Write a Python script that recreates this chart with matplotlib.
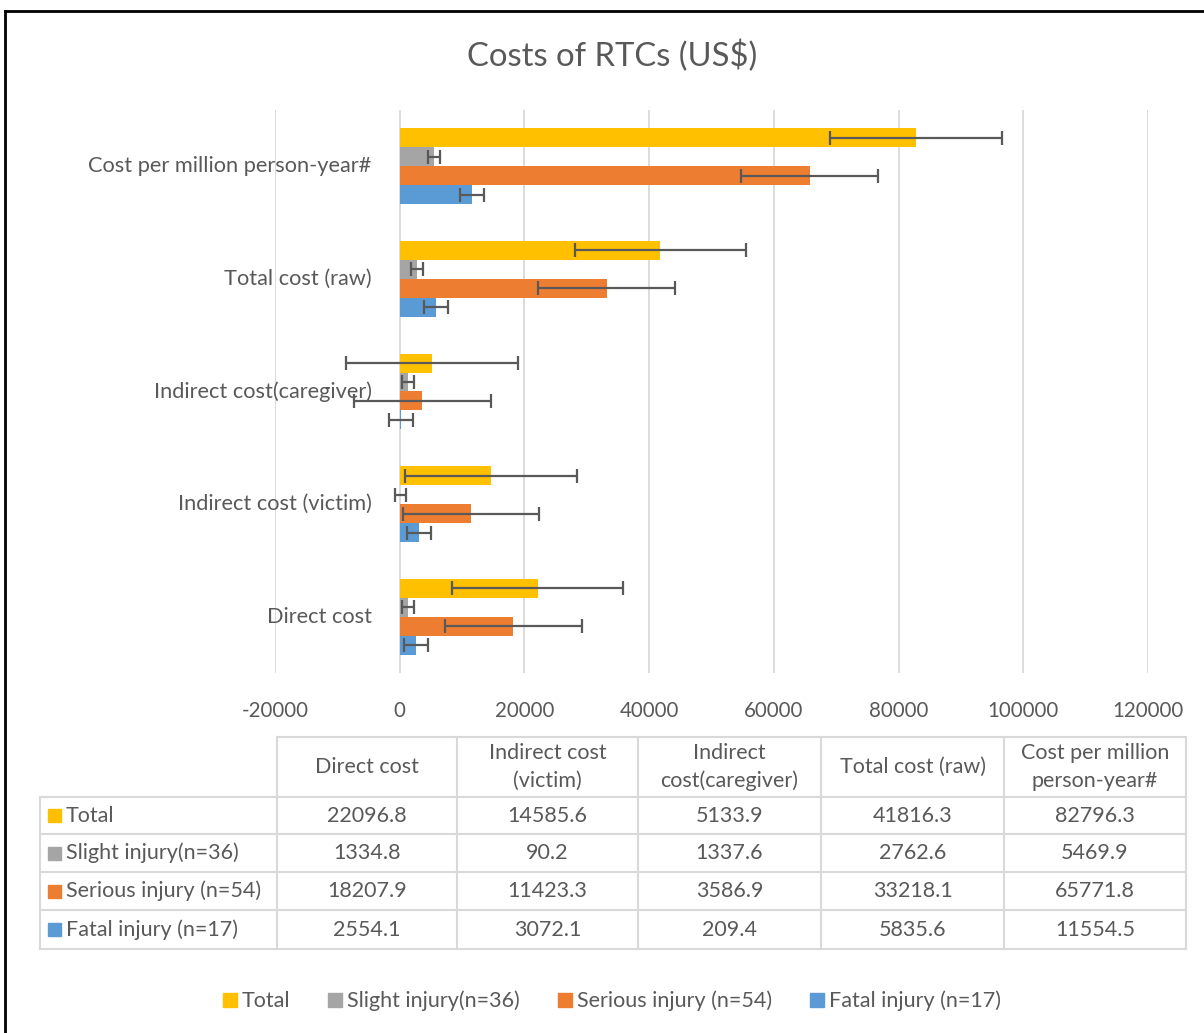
import numpy as np
import matplotlib
matplotlib.use("Agg")
import matplotlib.pyplot as plt
import matplotlib.transforms as mtrans
from matplotlib.patches import Rectangle, Patch

plt.rcParams['font.family'] = ['Lato', 'DejaVu Sans']

categories = ["Direct cost", "Indirect cost (victim)", "Indirect cost(caregiver)",
              "Total cost (raw)", "Cost per million person-year#"]
table_headers = ["Direct cost", "Indirect cost\n(victim)", "Indirect\ncost(caregiver)",
                 "Total cost (raw)", "Cost per million\nperson-year#"]
series_names = ["Total", "Slight injury(n=36)", "Serious injury (n=54)", "Fatal injury (n=17)"]
total = [22096.8, 14585.6, 5133.9, 41816.3, 82796.3]
slight = [1334.8, 90.2, 1337.6, 2762.6, 5469.9]
serious = [18207.9, 11423.3, 3586.9, 33218.1, 65771.8]
fatal = [2554.1, 3072.1, 209.4, 5835.6, 11554.5]
series_values = [total, slight, serious, fatal]
colors = ["#FFC000", "#A5A5A5", "#ED7D31", "#5B9BD5"]
xticks = [-20000, 0, 20000, 40000, 60000, 80000, 100000, 120000]

TXT = "#595959"
FS = 15.5
W, H = 1204, 1033
fig = plt.figure(figsize=(W / 100, H / 100), dpi=100)

# main axes (pixel layout)
x0, x1, yt, yb = 275, 1148, 110, 673
ax = fig.add_axes([x0 / W, 1 - yb / H, (x1 - x0) / W, (yb - yt) / H])
ax.set_xlim(-20000, 120000)
ax.set_ylim(-0.5, 4.5)
for s in ax.spines.values():
    s.set_visible(False)
ax.set_xticks(xticks)
ax.set_xticklabels([str(t) for t in xticks], color=TXT, fontsize=14.8)
ax.tick_params(axis='x', length=0, pad=20)
ax.set_yticks([])
ax.grid(axis='x', color='#D9D9D9', lw=1.3)
ax.set_axisbelow(True)

# category labels near value axis
lab_tr = mtrans.offset_copy(ax.transData, fig=fig, x=-28, y=0, units='dots')
for i, c in enumerate(categories):
    ax.text(0, i, c, transform=lab_tr, ha='right', va='center', fontsize=15.7,
            color=TXT, zorder=1)

h = 0.1685
offsets = [1.5 * h, 0.5 * h, -0.5 * h, -1.5 * h]
y = np.arange(len(categories))
for vals, col, off in zip(series_values, colors, offsets):
    v = np.array(vals)
    se = v.std(ddof=1) / np.sqrt(len(v))
    ax.barh(y + off, v, height=h, color=col, zorder=2)
    ax.errorbar(v, y + off, xerr=se, fmt='none', ecolor='#595959', elinewidth=1.6,
                capsize=5, capthick=1.6, zorder=3)

# overlay for title, table, frame
ov = fig.add_axes([0, 0, 1, 1], zorder=-1)
ov.set_xlim(0, W)
ov.set_ylim(H, 0)
ov.axis('off')
ov.patch.set_alpha(0)

ov.text(612, 56, "Costs of RTCs (US$)", ha='center', va='center', fontsize=23.6, color=TXT)

# frame
ov.plot([5, 5], [11, H + 5], color='black', lw=2)
ov.plot([5, W + 5], [11, 11], color='black', lw=2)

# table
gc = '#D9D9D9'
col_x = [277, 457, 638, 821, 1004, 1186]
row_y = [737, 797, 834, 872, 910, 949]
ov.plot([277, 1186], [737, 737], color=gc, lw=1.5)
for yy in row_y[1:]:
    ov.plot([40, 1186], [yy, yy], color=gc, lw=1.5)
ov.plot([40, 40], [797, 949], color=gc, lw=1.5)
for xx in col_x:
    ov.plot([xx, xx], [737, 949], color=gc, lw=1.5)
for j, hd in enumerate(table_headers):
    cx = (col_x[j] + col_x[j + 1]) / 2
    ov.text(cx, (737 + 797) / 2, hd, ha='center', va='center', fontsize=FS,
            color=TXT, linespacing=1.45)
for r, (name, vals, col) in enumerate(zip(series_names, series_values, colors)):
    cy = (row_y[r + 1] + row_y[r + 2]) / 2
    ov.add_patch(Rectangle((48, cy - 6.5), 13, 13, color=col))
    ov.text(66, cy, name, ha='left', va='center', fontsize=FS, color=TXT)
    for j, v in enumerate(vals):
        cx = (col_x[j] + col_x[j + 1]) / 2
        ov.text(cx, cy, f"{v:.1f}", ha='center', va='center', fontsize=FS, color=TXT)

# bottom legend
handles = [Patch(color=c) for c in colors]
fig.legend(handles, series_names, loc='center', bbox_to_anchor=(612 / W, 1 - 1001 / H),
           ncol=4, frameon=False, fontsize=FS, labelcolor=TXT,
           handlelength=0.65, handleheight=0.65, handletextpad=0.25, columnspacing=1.75)

fig.savefig("out.png", dpi=100)
